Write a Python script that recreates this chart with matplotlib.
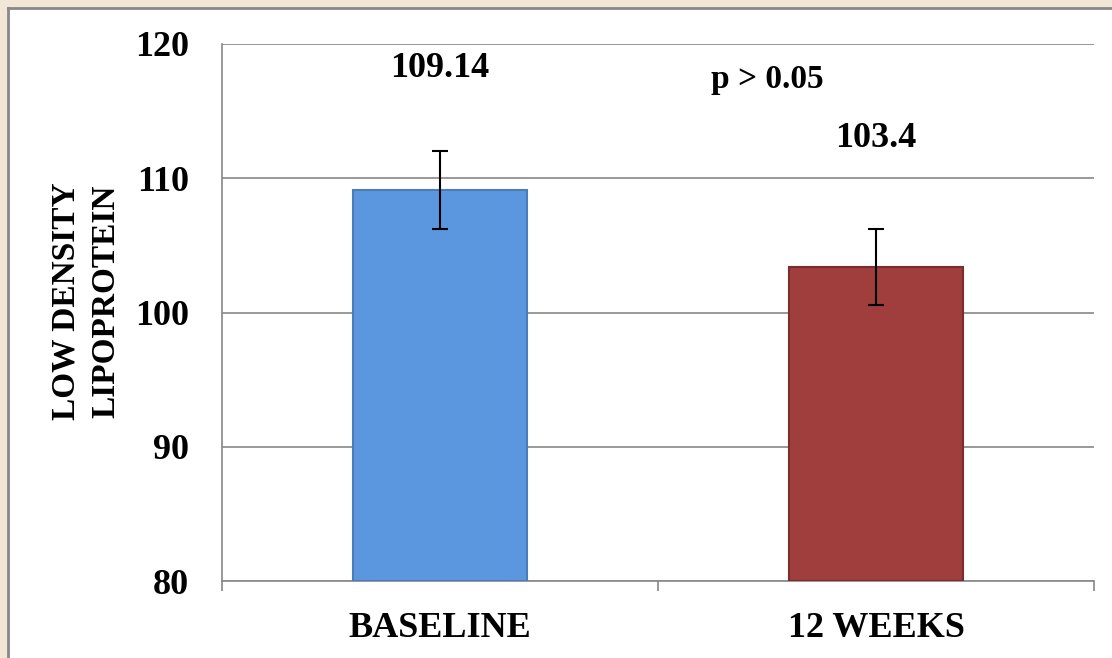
import matplotlib
matplotlib.use("Agg")
import matplotlib.pyplot as plt
from matplotlib.patches import Rectangle

categories = ["BASELINE", "12 WEEKS"]
means = [109.14, 103.4]
errors = [2.9, 2.85]
value_labels = ["109.14", "103.4"]
label_y = [117.55, 112.35]
yticks = [80, 90, 100, 110, 120]
p_text = "p > 0.05"

plt.rcParams['font.family'] = ['Liberation Serif', 'DejaVu Serif']
plt.rcParams['font.weight'] = 'bold'

fig = plt.figure(figsize=(11.12, 6.58), dpi=100)
fig.patch.set_facecolor('white')

# faint background strips outside the slide frame
fig.patches.append(Rectangle((0, 1 - 8 / 658), 1, 8 / 658, transform=fig.transFigure,
                             facecolor='#f2e6d6', edgecolor='none', zorder=0))
fig.patches.append(Rectangle((0, 0), 8 / 1112, 1, transform=fig.transFigure,
                             facecolor='#f2e6d6', edgecolor='none', zorder=0))
fig.add_artist(plt.Line2D([8 / 1112, 1], [1 - 8 / 658, 1 - 8 / 658], transform=fig.transFigure,
                          color='#888888', lw=2))
fig.add_artist(plt.Line2D([8 / 1112, 8 / 1112], [0, 1 - 8 / 658], transform=fig.transFigure,
                          color='#888888', lw=2))

ax = fig.add_axes([222 / 1112, 1 - 581 / 658, 872 / 1112, 537 / 658])
x = range(len(categories))
colors = ['#5b97df', '#a03d3d']
edges = ['#4a7cba', '#7b2d2d']

ax.bar(x, [m - 80 for m in means], bottom=80, width=0.4, color=colors,
       edgecolor=edges, linewidth=1.5, zorder=3)
ax.errorbar(x, means, yerr=errors, fmt='none', ecolor='black', elinewidth=1.5,
            capsize=5.5, capthick=1.5, zorder=4)

ax.set_xlim(-0.5, 1.5)
ax.set_ylim(80, 120)
ax.set_yticks(yticks)
ax.yaxis.grid(True, color='#888888', linewidth=1.2, zorder=0)
ax.tick_params(axis='y', length=0, pad=24, labelsize=26)

ax.set_xticks([-0.5, 0.5, 1.5])
ax.set_xticklabels([])
ax.set_xticks(list(x), minor=True)
ax.set_xticklabels(categories, minor=True, fontsize=26)
ax.tick_params(axis='x', which='major', length=7, color='#888888', width=1.2)
ax.tick_params(axis='x', which='minor', length=0, pad=22)

for s in ['top', 'right']:
    ax.spines[s].set_visible(False)
for s in ['left', 'bottom']:
    ax.spines[s].set_color('#888888')
    ax.spines[s].set_linewidth(1.2)

for i, lab in enumerate(value_labels):
    ax.text(i, label_y[i], lab, ha='center', va='baseline', fontsize=26, fontweight='bold')
ax.text(0.75, 116.7, p_text, ha='center', va='baseline', fontsize=24, fontweight='bold')

ax.set_ylabel("LOW DENSITY\nLIPOPROTEIN", fontsize=24, fontweight='bold',
              va='center', ha='center', linespacing=1.4)
ax.yaxis.set_label_coords((86 - 222) / 872, (581 - 301) / 537)

fig.savefig("out.png", dpi=100, facecolor=fig.get_facecolor())
